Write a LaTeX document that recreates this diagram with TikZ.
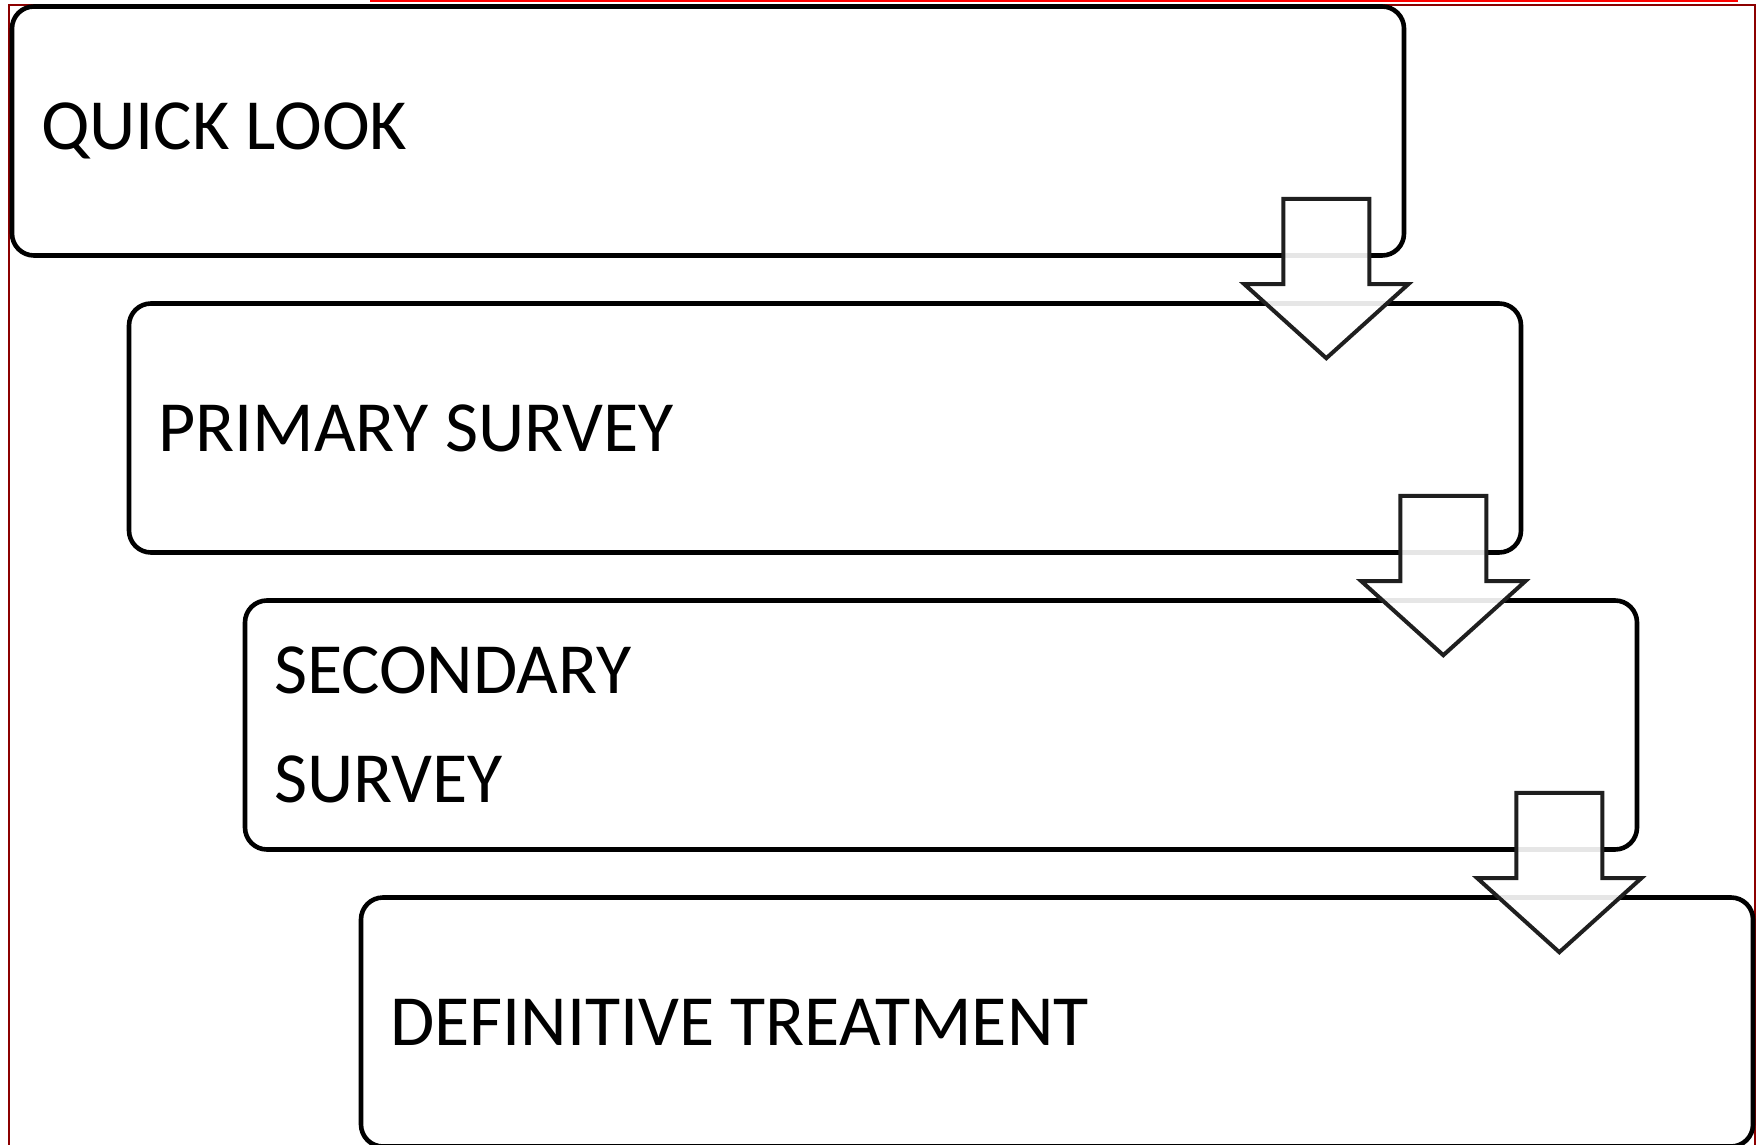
\documentclass[tikz,border=0pt]{standalone}
\usepackage{fontspec}
\setmainfont{Carlito}
\usetikzlibrary{calc}
\usetikzlibrary{positioning}
\tikzset{ %Pour les etapes et les fleches
    etape/.style={draw=black, line width=2.3pt, rounded corners=11pt, fill=white,
        minimum width=696pt, minimum height=124.5pt, inner xsep=14.5pt,
        text width=667pt, align=flush left, font=\fontsize{36}{54.5}\selectfont},
    fleche/.style={draw=black!88, line width=2pt, fill=white, fill opacity=0.9}
}

\begin{document}
\begin{tikzpicture}[x=0.5pt,y=-0.5pt]
    \useasboundingbox (0,0) rectangle (1764,1144);
    \draw[red!55!black, line width=0.75pt] (9,1160) -- (9,5) -- (1755,5) -- (1755,1160);
    \draw[red, line width=1pt] (370,1) -- (1738,1);
    \node[etape] (quick) at (708,131) {QUICK LOOK};
    \node[etape] (primary) at (825,428) {PRIMARY SURVEY};
    \node[etape] (secondary) at (941,725) {SECONDARY\\SURVEY};
    \node[etape] (definitive) at (1057,1022) {DEFINITIVE TREATMENT};
    \foreach \a/\b in {quick/primary,primary/secondary,secondary/definitive}{
        \coordinate (haut) at ($(\a.south east)+(-80,-59)$);
        \coordinate (base) at ($(haut |- \b.north)+(0,-17)$);
        \coordinate (pointe) at ($(haut |- \b.north)+(0,57)$);
        \draw[fleche] ($(haut)+(-43,0)$) -- ($(haut)+(43,0)$) -- ($(base)+(43,0)$) -- ($(base)+(82,0)$)
            -- (pointe) -- ($(base)+(-82,0)$) -- ($(base)+(-43,0)$) -- cycle;
    }
\end{tikzpicture}
\end{document}
